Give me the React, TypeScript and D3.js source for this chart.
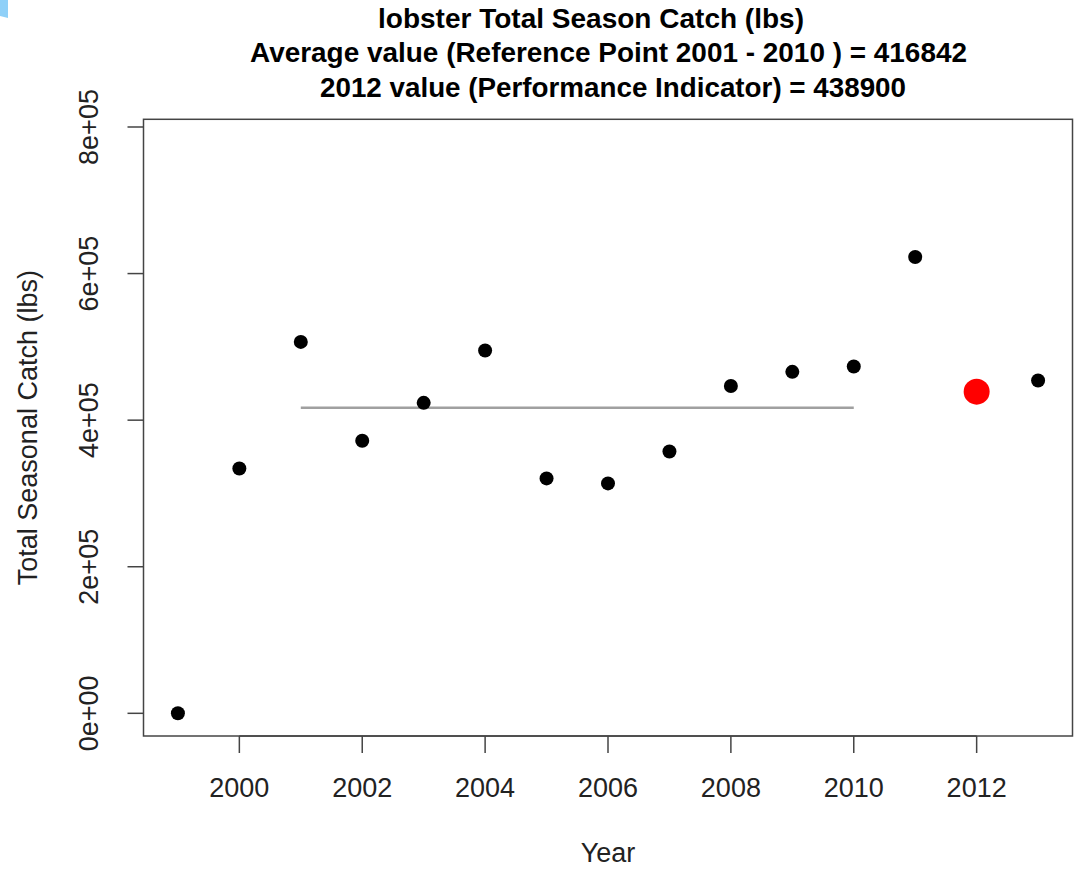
import React from "react";
import * as d3 from "d3";

const years = [1999, 2000, 2001, 2002, 2003, 2004, 2005, 2006, 2007, 2008, 2009, 2010, 2011, 2012, 2013];
const catchLbs = [0, 334000, 506800, 371800, 423600, 495000, 320500, 313700, 357300, 446600, 465900, 473200, 622700, 438900, 454100];
const highlightYear = 2012;
const refStart = 2001;
const refEnd = 2010;
const refMean = 416842;
const xTicks = [2000, 2002, 2004, 2006, 2008, 2010, 2012];
const yTicks = [0, 200000, 400000, 600000, 800000];
const yTickLabels = ["0e+00", "2e+05", "4e+05", "6e+05", "8e+05"];
const titleLines = [
  "lobster Total Season Catch (lbs)",
  "Average value (Reference Point 2001 - 2010 ) = 416842",
  "2012 value (Performance Indicator) = 438900",
];

const W = 1076;
const H = 869;
const left = 143.5;
const right = 1072.5;
const top = 119.3;
const bottom = 736;

export default function App() {
  const x = d3.scaleLinear().domain([1998.44, 2013.56]).range([left, right]);
  const y = d3.scaleLinear().domain([-30950, 810500]).range([bottom, top]);
  const font = "'Liberation Sans', Arial, Helvetica, sans-serif";
  const axisColor = "#444";
  const titleSpecs = [
    { cx: 591, base: 28, len: 426 },
    { cx: 608.5, base: 62, len: 717 },
    { cx: 613, base: 97, len: 586 },
  ];
  return (
    <div style={{ position: "fixed", left: 0, top: 0, width: W, height: H, background: "#fff" }}>
      <svg width={W} height={H} viewBox={`0 0 ${W} ${H}`} style={{ display: "block" }}>
        <rect x={0} y={0} width={W} height={H} fill="#fff" />
        <polygon points="0,0 8,0 8,18 0,16" fill="#8fd0f8" />
        {titleLines.map((t, i) => (
          <text
            key={i}
            x={titleSpecs[i].cx}
            y={titleSpecs[i].base}
            textAnchor="middle"
            fontFamily={font}
            fontWeight="bold"
            fontSize={27}
            textLength={titleSpecs[i].len}
            lengthAdjust="spacingAndGlyphs"
            fill="#000"
          >
            {t}
          </text>
        ))}
        {/* reference mean line */}
        <line x1={x(refStart)} x2={x(refEnd)} y1={y(refMean)} y2={y(refMean)} stroke="#a0a0a0" strokeWidth={2.5} />
        {/* points */}
        {years.map((yr, i) =>
          yr === highlightYear ? null : (
            <circle key={yr} cx={x(yr)} cy={y(catchLbs[i])} r={7} fill="#000" />
          )
        )}
        {years.map((yr, i) =>
          yr === highlightYear ? (
            <circle key={"h" + yr} cx={x(yr)} cy={y(catchLbs[i])} r={13} fill="#ff0000" />
          ) : null
        )}
        {/* box */}
        <rect x={left} y={top} width={right - left} height={bottom - top} fill="none" stroke={axisColor} strokeWidth={1.5} />
        {/* x axis */}
        <line x1={x(xTicks[0])} x2={x(xTicks[xTicks.length - 1])} y1={bottom} y2={bottom} stroke={axisColor} strokeWidth={1.5} />
        {xTicks.map((t) => (
          <g key={t}>
            <line x1={x(t)} x2={x(t)} y1={bottom} y2={bottom + 17} stroke={axisColor} strokeWidth={1.5} />
            <text x={x(t)} y={797} textAnchor="middle" fontFamily={font} fontSize={27} fill="#222">
              {t}
            </text>
          </g>
        ))}
        {/* y axis */}
        {yTicks.map((t, i) => (
          <g key={t}>
            <line x1={left - 16} x2={left} y1={y(t)} y2={y(t)} stroke={axisColor} strokeWidth={1.5} />
            <text
              transform={`translate(98,${y(t)}) rotate(-90)`}
              textAnchor="middle"
              fontFamily={font}
              fontSize={27}
              fill="#222"
            >
              {yTickLabels[i]}
            </text>
          </g>
        ))}
        <text x={(left + right) / 2} y={862} textAnchor="middle" fontFamily={font} fontSize={27} fill="#222">
          Year
        </text>
        <text
          transform={`translate(37,${(top + bottom) / 2}) rotate(-90)`}
          textAnchor="middle"
          fontFamily={font}
          fontSize={27}
          fill="#222"
        >
          Total Seasonal Catch (lbs)
        </text>
      </svg>
    </div>
  );
}
